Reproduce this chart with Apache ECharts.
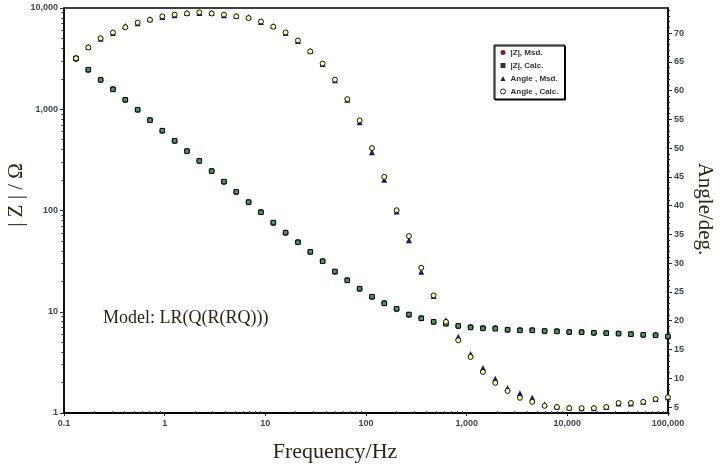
<!DOCTYPE html>
<html>
<head>
<meta charset="utf-8">
<script src="https://cdn.jsdelivr.net/npm/echarts@6.0.0/dist/echarts.min.js"></script>
<style>
html, body { margin: 0; padding: 0; background: #fff; }
#chart { width: 724px; height: 472px; }
</style>
</head>
<body>
<div id="chart"></div>
<script>
// frequency of every point, Hz
var freq = [0.1315, 0.1743, 0.2312, 0.3065, 0.4064, 0.5388, 0.7145, 0.9474, 1.256, 1.665,
  2.208, 2.928, 3.882, 5.147, 6.823, 9.048, 12.0, 15.9, 21.09, 27.96,
  37.07, 49.15, 65.16, 86.4, 114.6, 151.9, 201.4, 267.0, 354.0, 469.4,
  622.3, 825.1, 1094, 1450, 1923, 2550, 3381, 4482, 5943, 7880,
  10447, 13852, 18365, 24350, 32285, 42805, 56754, 75247, 99770];
// |Z| measured / calculated, ohm
var zMsd = [3130, 2443, 1945, 1585, 1234, 984, 783, 610, 486, 387,
  308, 246, 191, 152, 121, 97, 75, 60, 48.9, 38.9,
  31.7, 24.7, 20.6, 16.8, 14.0, 12.2, 10.6, 9.29, 8.67, 7.92,
  7.74, 7.23, 7.07, 6.91, 6.91, 6.6, 6.6, 6.6, 6.45, 6.45,
  6.31, 6.31, 6.17, 6.17, 6.1, 6.03, 5.89, 5.89, 5.63];
var zCalc = [3180, 2460, 1950, 1570, 1240, 990, 780, 615, 488, 386,
  309, 245, 193, 153, 121, 96, 76, 60.5, 48.5, 39.1,
  31.5, 25.0, 20.4, 16.9, 14.1, 12.1, 10.7, 9.4, 8.6, 7.95,
  7.6, 7.25, 7.0, 6.85, 6.8, 6.65, 6.55, 6.55, 6.45, 6.4,
  6.3, 6.28, 6.2, 6.15, 6.08, 6.0, 5.92, 5.85, 5.7];
// phase angle measured / calculated, deg
var angMsd = [65.8, 67.6, 69.0, 70.0, 71.2, 71.7, 72.4, 72.8, 73.1, 73.5,
  73.5, 73.5, 73.1, 73.0, 72.8, 71.9, 71.2, 70.0, 68.6, 66.9,
  64.6, 61.8, 58.4, 54.5, 49.3, 44.5, 39.0, 34.0, 28.5, 24.3,
  20.1, 17.2, 14.2, 11.8, 9.9, 8.3, 7.4, 6.6, 5.5, 5.1,
  4.9, 4.8, 4.8, 5.0, 5.6, 5.6, 5.9, 6.4, 6.7];
var angCalc = [65.6, 67.5, 69.1, 70.1, 71.0, 71.8, 72.3, 72.9, 73.2, 73.4,
  73.6, 73.4, 73.2, 72.9, 72.6, 72.0, 71.1, 70.1, 68.7, 66.8,
  64.7, 61.9, 58.5, 54.8, 50.0, 45.0, 39.2, 34.7, 29.2, 24.4,
  19.8, 16.6, 13.7, 11.1, 9.2, 7.8, 6.6, 5.9, 5.2, 5.0,
  4.8, 4.8, 4.8, 5.0, 5.7, 5.7, 5.9, 6.4, 6.7];

var xTickLabels = ["0.1", "1", "10", "100", "1,000", "10,000", "100,000"];
var yTickLabels = ["1", "10", "100", "1,000", "10,000"];
var angleTicks = [5, 10, 15, 20, 25, 30, 35, 40, 45, 50, 55, 60, 65, 70];
var seriesNames = ["|Z|, Msd.", "|Z|, Calc.", "Angle , Msd.", "Angle , Calc."];

// minor ticks, in exponent space for the overlay axes
var xMinor = [], yMinor = [], angMinor = [];
for (var d = -1; d < 5; d++) for (var m = 2; m < 10; m++) xMinor.push(d + Math.log10(m));
for (var d2 = 0; d2 < 4; d2++) for (var m2 = 2; m2 < 10; m2++) yMinor.push(d2 + Math.log10(m2));
for (var a = 4; a <= 74; a++) if (a % 5 !== 0) angMinor.push(a);

var labelFont = { fontFamily: "Liberation Sans", fontSize: 9, fontWeight: "bold", color: "#3d4550" };
var serif = "Liberation Serif";
var textColor = "#2b2418";

function pairs(vals) {
  return freq.map(function (f, i) { return [f, vals[i]]; });
}

var chart = echarts.init(document.getElementById("chart"));
chart.setOption({
  animation: false,
  grid: { left: 64, right: 56, top: 8, bottom: 59, show: true, borderColor: "#000", borderWidth: 1.5 },
  legend: {
    orient: "vertical",
    left: 494,
    top: 45,
    padding: [2, 6, 2, 6],
    itemGap: 2,
    itemWidth: 5,
    itemHeight: 5,
    borderColor: "#000",
    borderWidth: 1,
    backgroundColor: "#fff",
    shadowColor: "#000",
    shadowOffsetX: 1,
    shadowOffsetY: 1,
    textStyle: { fontFamily: "Liberation Sans", fontSize: 8, fontWeight: "bold", color: "#333", lineHeight: 11 },
    data: [
      { name: seriesNames[0], icon: "circle", itemStyle: { color: "#802020", borderWidth: 0 } },
      { name: seriesNames[1], icon: "rect", itemStyle: { color: "#2a3a2a", borderWidth: 0 } },
      { name: seriesNames[2], icon: "triangle", itemStyle: { color: "#1a1a60", borderWidth: 0 } },
      { name: seriesNames[3], icon: "circle", itemStyle: { color: "#fff", borderColor: "#222", borderWidth: 1 } }
    ]
  },
  xAxis: [
    {
      type: "log", logBase: 10, min: 0.1, max: 100000, interval: 1, position: "bottom",
      axisLine: { onZero: false, lineStyle: { color: "#000", width: 2 } },
      axisTick: { inside: false, length: 3, lineStyle: { color: "#1a2a2a" } },
      axisLabel: Object.assign({ margin: 6, formatter: function (v, i) { return xTickLabels[i]; } }, labelFont),
      splitLine: { show: false }
    },
    {
      type: "value", min: -1, max: 5, position: "bottom",
      axisLine: { show: false, onZero: false },
      axisTick: { inside: true, length: 2, customValues: xMinor, lineStyle: { color: "#1d5a3a" } },
      axisLabel: { show: false },
      splitLine: { show: false }
    }
  ],
  yAxis: [
    {
      type: "log", logBase: 10, min: 1, max: 10000, interval: 1, position: "left",
      axisLine: { show: true, onZero: false, lineStyle: { color: "#000", width: 1.5 } },
      axisTick: { inside: false, length: 4, lineStyle: { color: "#1a2a2a" } },
      axisLabel: Object.assign({ margin: 6, formatter: function (v, i) { return yTickLabels[i]; } }, labelFont),
      splitLine: { show: false }
    },
    {
      type: "value", min: 0, max: 4, position: "left",
      axisLine: { show: false, onZero: false },
      axisTick: { show: true, inside: false, length: 2.5, customValues: yMinor, lineStyle: { color: "#1a2a2a" } },
      axisLabel: { show: false },
      splitLine: { show: false }
    },
    {
      type: "value", min: 3.96, max: 74.35, position: "right",
      axisLine: { show: true, onZero: false, lineStyle: { color: "#000", width: 1.5 } },
      axisTick: { show: true, inside: false, length: 4, customValues: angleTicks, lineStyle: { color: "#1a2a2a" } },
      axisLabel: Object.assign({ margin: 6, customValues: angleTicks }, labelFont),
      splitLine: { show: false }
    },
    {
      type: "value", min: 3.96, max: 74.35, position: "right",
      axisLine: { show: false, onZero: false },
      axisTick: { show: true, inside: false, length: 2, customValues: angMinor, lineStyle: { color: "#1a2a2a" } },
      axisLabel: { show: false },
      splitLine: { show: false }
    }
  ],
  series: [
    {
      name: seriesNames[0], type: "scatter", xAxisIndex: 0, yAxisIndex: 0,
      symbol: "circle", symbolSize: 5,
      itemStyle: { color: "#3fae5a", borderColor: "#0d2a12", borderWidth: 0.8, opacity: 1 },
      data: pairs(zMsd)
    },
    {
      name: seriesNames[1], type: "scatter", xAxisIndex: 0, yAxisIndex: 0,
      symbol: "rect", symbolSize: 4.5,
      itemStyle: { color: "#4a9a58", borderColor: "#000", borderWidth: 1, opacity: 1 },
      data: pairs(zCalc)
    },
    {
      name: seriesNames[2], type: "scatter", xAxisIndex: 0, yAxisIndex: 2,
      symbol: "triangle", symbolSize: 6,
      itemStyle: { color: "#1a1a70", opacity: 1 },
      data: pairs(angMsd)
    },
    {
      name: seriesNames[3], type: "scatter", xAxisIndex: 0, yAxisIndex: 2,
      symbol: "circle", symbolSize: 5,
      itemStyle: { color: "#ffffa8", borderColor: "#111", borderWidth: 1, opacity: 1 },
      data: pairs(angCalc)
    }
  ],
  graphic: [
    { type: "text", x: 16, y: 195, rotation: Math.PI / 2,
      style: { text: "| Z | / Ω", fontFamily: serif, fontSize: 21, fill: textColor, align: "center", verticalAlign: "middle" } },
    { type: "text", x: 705, y: 209, rotation: -Math.PI / 2,
      style: { text: "Angle/deg.", fontFamily: serif, fontSize: 21, fill: textColor, align: "center", verticalAlign: "middle" } },
    { type: "text", x: 335, y: 452,
      style: { text: "Frequency/Hz", fontFamily: serif, fontSize: 22, fill: textColor, align: "center", verticalAlign: "middle" } },
    { type: "text", x: 103, y: 318,
      style: { text: "Model: LR(Q(R(RQ)))", fontFamily: serif, fontSize: 18, fill: textColor, align: "left", verticalAlign: "middle" } }
  ]
});
</script>
</body>
</html>
